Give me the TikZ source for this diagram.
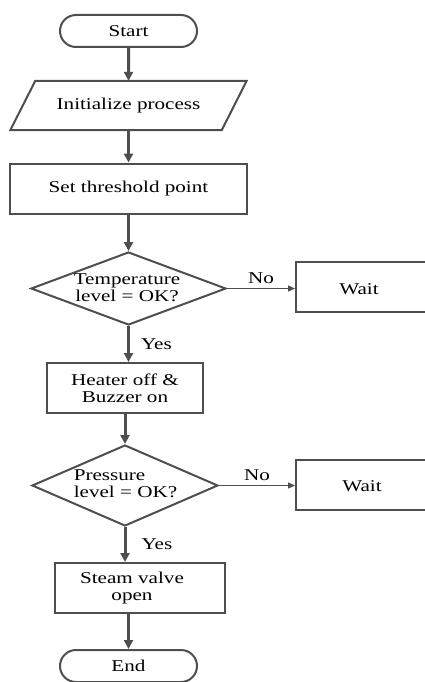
\documentclass[tikz,border=0pt]{standalone}
\usepackage{fontspec}
\setmainfont{Liberation Serif}[FakeStretch=1.28]
\usepackage{tikz}
\usetikzlibrary{shapes.geometric,shapes.misc}
\usetikzlibrary{arrows.meta}
\definecolor{flowgray}{RGB}{78,78,78}
\tikzset{
  terminal/.style={rounded rectangle, draw=flowgray, line width=2pt, minimum width=137, minimum height=32, inner sep=0pt},
  procbox/.style={rectangle, draw=flowgray, line width=2pt, minimum height=50, inner sep=0pt, align=center},
  decision/.style={diamond, draw=flowgray, line width=2pt, inner sep=0pt},
  flowline/.style={draw=flowgray, line width=3pt, -{Triangle[length=9pt,width=9pt]}},
  noline/.style={draw=flowgray, line width=1.3pt, -{Triangle[length=7pt,width=6pt]}},
}

\begin{document}
\begin{tikzpicture}[x=1pt,y=-1pt, node font=\fontsize{16.5}{17}\selectfont]
			\clip (0,0) rectangle (425,682);
			% main column
			\node[terminal] (start) at (128.5,31) {Start};
			\node[minimum width=211, minimum height=49, inner sep=0pt] (init) at (128.5,105.5) {Initialize process};
			\draw[flowgray, line width=2pt] ([xshift=12.5]init.north west) -- ([xshift=12.5]init.north east)
			   -- ([xshift=-12.5]init.south east) -- ([xshift=-12.5]init.south west) -- cycle;
			\node[procbox, minimum width=237] (set) at (128.5,188.5) {Set threshold point};
			\node[decision, minimum width=195, minimum height=73] (temp) at (128.5,288.5) {};
			\node[align=center] (tempq) at (127,288) {Temperature\\level = OK?};
			\node[procbox, minimum width=156] (heater) at (125,388) {Heater off \&\\Buzzer on};
			\node[decision, minimum width=186, minimum height=81] (press) at (125,485.5) {};
			\node[align=left] (pressq) at (125.5,484) {Pressure\\level = OK?};
			\node[procbox, minimum width=170] (steam) at (140,588) {};
			\node[align=center] (steamq) at (132,588) {Steam valve\\open};
			\node[terminal] (end) at (128.5,666) {End};
			% side boxes
			\node[procbox, minimum width=140] (wait1) at (366,287) {};
			\node (waitA) at (359,289) {Wait};
			\node[procbox, minimum width=140] (wait2) at (366,485) {};
			\node (waitB) at (362,486) {Wait};
			% connectors
			\draw[flowline] (start) -- (init);
			\draw[flowline] (init) -- (set);
			\draw[flowline] (set) -- (temp);
			\draw[flowline] (temp.south) -- (temp.south |- heater.north)
			   node[midway, right=11pt, inner sep=0pt] {Yes};
			\draw[flowline] (heater.south) -- (press.north);
			\draw[flowline] (press.south) -- (press.south |- steam.north)
			   node[midway, right=15pt, inner sep=0pt] {Yes};
			\draw[flowline] (steam.south -| end.north) -- (end.north);
			\draw[noline] (temp.east) -- (temp.east -| wait1.west)
			   node[midway, above=4pt, inner sep=0pt] {No};
			\draw[noline] (press.east) -- (press.east -| wait2.west)
			   node[midway, above=4pt, inner sep=0pt] {No};
		\end{tikzpicture}
\end{document}
